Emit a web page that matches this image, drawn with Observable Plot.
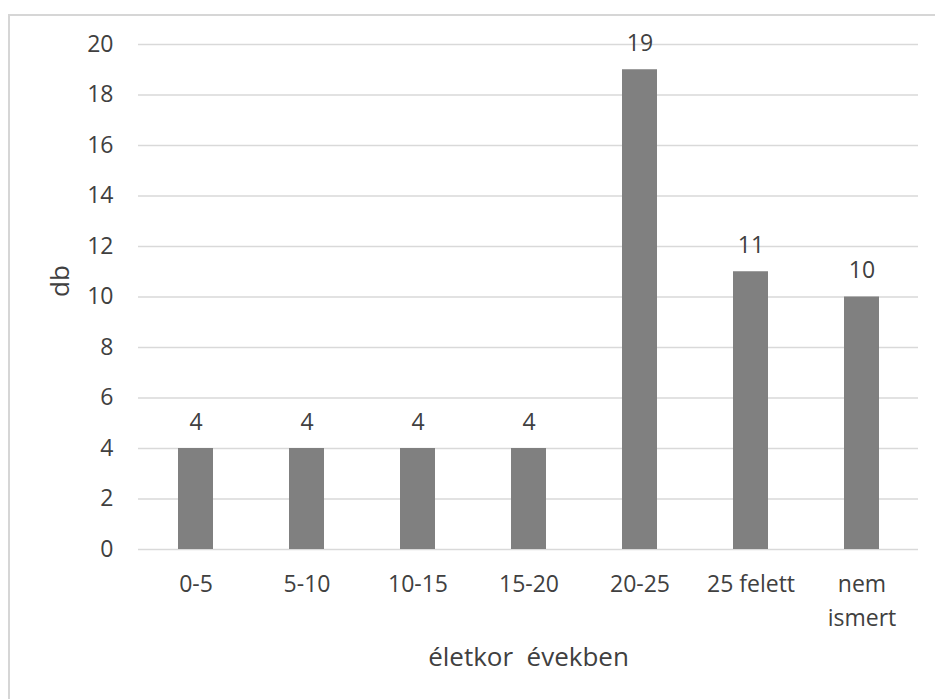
<!DOCTYPE html>
<html>
<head>
<meta charset="utf-8">
<script src="https://cdn.jsdelivr.net/npm/d3@7"></script>
<script src="https://cdn.jsdelivr.net/npm/@observablehq/plot@0.6"></script>
<style>
  html, body { margin: 0; padding: 0; background: #fff; }
  #wrap { position: relative; width: 935px; height: 699px; overflow: hidden; }
  #frame {
    position: absolute; left: 8px; top: 14px; width: 940px; height: 700px;
    border: 2px solid #d6d6d6; box-sizing: border-box; pointer-events: none;
  }
  #chart { position: absolute; left: 0; top: 0; }
</style>
</head>
<body>
<div id="wrap">
  <div id="chart"></div>
  <div id="frame"></div>
</div>
<script>
// Age groups (years) and number of cases in each
const categories = ["0-5", "5-10", "10-15", "15-20", "20-25", "25 felett", "nem ismert"];
const tickLabels = ["0-5", "5-10", "10-15", "15-20", "20-25", "25 felett", "nem\nismert"];
const counts = [4, 4, 4, 4, 19, 11, 10];
const yTicks = [0, 2, 4, 6, 8, 10, 12, 14, 16, 18, 20];
const xTitle = "életkor  években";
const yTitle = "db";

const data = categories.map((c, i) => ({category: c, count: counts[i]}));
const labelOf = new Map(categories.map((c, i) => [c, tickLabels[i]]));

const textColor = "#404040";

const chart = Plot.plot({
  width: 935,
  height: 699,
  marginLeft: 138,
  marginRight: 17,
  marginTop: 44,
  marginBottom: 150,
  style: {fontFamily: "'Open Sans', sans-serif", fontSize: "23px", color: textColor, background: "transparent"},
  x: {domain: categories, paddingInner: 0.686, paddingOuter: 0.343, label: null},
  y: {domain: [0, 20], label: null},
  marks: [
    Plot.ruleY(yTicks, {stroke: "#d9d9d9", strokeWidth: 1.5}),
    Plot.barY(data, {x: "category", y: "count", fill: "#808080"}),
    Plot.text(data, {x: "category", y: "count", text: d => String(d.count), dy: -26, fill: textColor, fontSize: 23}),
    Plot.axisY({ticks: yTicks, tickSize: 0, tickPadding: 25, label: null, fill: textColor}),
    Plot.axisX({tickSize: 0, tickPadding: 18, label: null, fill: textColor,
      tickFormat: d => labelOf.get(d), lineHeight: 1.5}),
    Plot.text([yTitle], {frameAnchor: "left", dx: -78, rotate: -90, fill: textColor, fontSize: 26}),
    Plot.text([xTitle], {frameAnchor: "bottom", dy: 116, fill: textColor, fontSize: 26})
  ]
});
document.getElementById("chart").appendChild(chart);
</script>
</body>
</html>
